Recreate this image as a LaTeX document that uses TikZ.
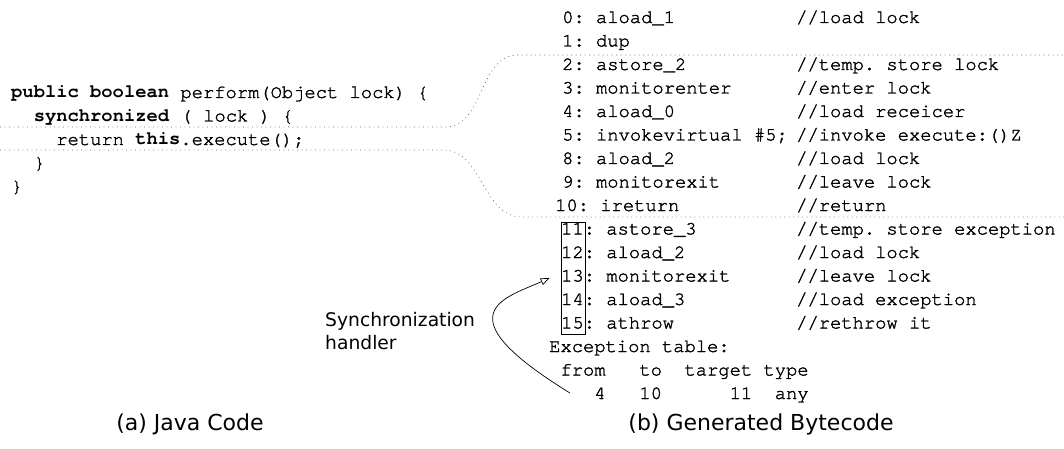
\documentclass[tikz,border=0pt]{standalone}
\usepackage{fontspec}
\setmainfont{DejaVu Sans}
\setmonofont{texgyrecursor-regular.otf}[
  BoldFont=texgyrecursor-bold.otf,
  UprightFeatures={RawFeature={embolden=1.6}}]
\usetikzlibrary{arrows.meta}

\begin{document}
\begin{tikzpicture}[x=1pt,y=-1pt,
  code/.style={anchor=base west, inner sep=0pt, font=\ttfamily\fontsize{18.8}{23.5}\selectfont},
  note/.style={font=\fontsize{18.7}{23}\selectfont, align=left, inner sep=0pt},
  caption/.style={font=\fontsize{22}{26}\selectfont, inner sep=0pt},
  guide/.style={black!60, line width=0.7pt, dash pattern=on 0.8pt off 3.7pt},
  framebox/.style={draw, line width=0.8pt, inner sep=0pt},
  handler/.style={line width=0.7pt, -{Triangle[open,length=9pt,width=7pt]}},
]
\useasboundingbox (0,0) rectangle (1064,449);

% ---- Java source ----
\node[code] (j1) at (11,98)    {\textbf{public boolean} perform(Object lock) \{};
\node[code] (j2) at (33.6,121.5) {\textbf{synchronized} ( lock ) \{};
\node[code] (j3) at (56.1,145) {return \textbf{this}.execute();};
\node[code] (j4) at (33.6,168.5) {\}};
\node[code] (j5) at (11,192)   {\}};

% ---- bytecode listing ----
\node[code] (b0)  at (562,23)    {0: aload\_1};
\node[code] (c0)  at (796,23)    {//load lock};
\node[code] (b1)  at (562,46.5)  {1: dup};
\node[code] (b2)  at (562,70)    {2: astore\_2};
\node[code] (c2)  at (796,70)    {//temp. store lock};
\node[code] (b3)  at (562,93.5)  {3: monitorenter};
\node[code] (c3)  at (796,93.5)  {//enter lock};
\node[code] (b4)  at (562,117)   {4: aload\_0};
\node[code] (c4)  at (796,117)   {//load receicer};
\node[code] (b5)  at (562,140.5) {5: invokevirtual \#5;};
\node[code] (c5)  at (796,140.5) {//invoke execute:()Z};
\node[code] (b8)  at (562,164)   {8: aload\_2};
\node[code] (c8)  at (796,164)   {//load lock};
\node[code] (b9)  at (562,187.5) {9: monitorexit};
\node[code] (c9)  at (796,187.5) {//leave lock};
\node[code] (b10) at (555,211)   {10: ireturn};
\node[code] (c10) at (796,211)   {//return};
\node[code] (b11) at (561,234.5) {11: astore\_3};
\node[code] (c11) at (796,234.5) {//temp. store exception};
\node[code] (b12) at (561,258)   {12: aload\_2};
\node[code] (c12) at (796,258)   {//load lock};
\node[code] (b13) at (561,281.5) {13: monitorexit};
\node[code] (c13) at (796,281.5) {//leave lock};
\node[code] (b14) at (561,305)   {14: aload\_3};
\node[code] (c14) at (796,305)   {//load exception};
\node[code] (b15) at (561,328.5) {15: athrow};
\node[code] (c15) at (796,328.5) {//rethrow it};

% ---- exception table ----
\node[code] (et)  at (549,352)   {Exception table:};
\node[code] (eth) at (549,375.5) {~from~~~to~~target~type};
\node[code] (etr) at (549,399)   {~~~~4~~~10~~~~~~11~~any};

% frame around the handler offsets
\node[framebox, minimum width=24pt, minimum height=112pt] (numbox) at (573,278) {};

% ---- synchronized region guides ----
\coordinate (ta) at (0,127);
\coordinate (tb) at (445,127);
\coordinate (tc) at (518,55);
\coordinate (td) at (1064,55);
\coordinate (ua) at (0,150);
\coordinate (ub) at (443,150);
\coordinate (uc) at (522,217);
\coordinate (ud) at (1064,217);
\draw[guide] (ta) -- (tb) .. controls (485,127) and (478,55) .. (tc) -- (td);
\draw[guide] (ua) -- (ub) .. controls (483,150) and (482,217) .. (uc) -- (ud);

% ---- handler annotation ----
\node[note, anchor=west] (sync) at (325,331.5) {Synchronization\\handler};
\coordinate (hstart) at (570,393);
\coordinate (htip) at ([xshift=-11pt]numbox.west);
\draw[handler] (hstart) .. controls (440,313) and (505,298) .. (htip);

% ---- captions ----
\node[caption] (capa) at (190,424) {(a) Java Code};
\node[caption] (capb) at (761,424) {(b) Generated Bytecode};
\end{tikzpicture}
\end{document}
